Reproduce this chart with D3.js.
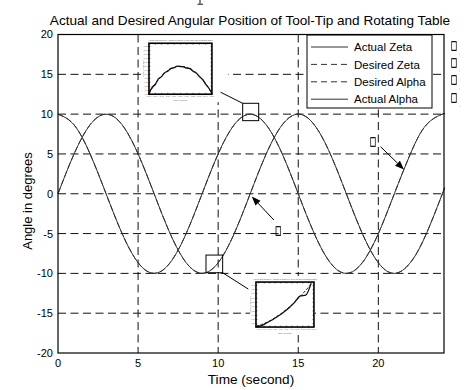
<!DOCTYPE html>
<html><head><meta charset="utf-8">
<script src="https://cdn.jsdelivr.net/npm/d3@7"></script>
<style>body{margin:0;background:#fff}svg{display:block}text{font-family:"Liberation Sans",Arial,sans-serif}</style>
</head><body><svg id="c" width="466" height="390"></svg>
<script>
// ---- data ----
const timeS = [0,1,2,3,4,5,6,7,8,9,10,11,12,13,14,15,16,17,18,19,20,21,22,23,24,24.1];
const desiredZeta  = [10,8.66,5,0,-5,-8.66,-10,-8.66,-5,0,5,8.66,10,8.66,5,0,-5,-8.66,-10,-8.66,-5,0,5,8.66,10,9.99];
const actualZeta   = [10,8.65,5.02,0.01,-4.98,-8.65,-9.99,-8.67,-5.01,0.02,5.01,8.66,9.99,8.65,5.01,-0.01,-5.0,-8.66,-10,-8.65,-5.01,0.01,5.0,8.66,9.99,9.98];
const desiredAlpha = [0,5,8.66,10,8.66,5,0,-5,-8.66,-10,-8.66,-5,0,5,8.66,10,8.66,5,0,-5,-8.66,-10,-8.66,-5,0,0.52];
const actualAlpha  = [0,4.98,8.65,9.99,8.67,5.01,0.01,-4.99,-8.65,-9.99,-8.67,-5.02,0.0,5.01,8.65,10,8.66,5.01,0.01,-4.99,-8.66,-10,-8.65,-5.01,0.01,0.5];
const xTicks = [0,5,10,15,20];
const yTicks = [-20,-15,-10,-5,0,5,10,15,20];
const legendLabels = ["Actual Zeta","Desired Zeta","Desired Alpha","Actual Alpha"];
const legendDashed = [false,true,true,false];

// zoom inset 1 (near zeta peak)
const inset1T = [11.5,11.55,11.6,11.65,11.7,11.75,11.8,11.85,11.9,11.95,12,12.05,12.1,12.15,12.2,12.25,12.3,12.35,12.4,12.45,12.5];
const inset1Desired = [9.659,9.724,9.781,9.833,9.877,9.914,9.945,9.969,9.986,9.997,10,9.997,9.986,9.969,9.945,9.914,9.877,9.833,9.781,9.724,9.659];
const inset1Actual  = [9.655,9.735,9.772,9.842,9.871,9.921,9.94,9.975,9.983,10.003,9.998,9.992,9.978,9.973,9.939,9.918,9.872,9.838,9.776,9.728,9.66];
// zoom inset 2 (near alpha trough)
const inset2T = [9.25,9.35,9.45,9.55,9.65,9.75,9.85,9.95,10.05,10.15,10.25];
const inset2Desired = [-9.914,-9.833,-9.724,-9.588,-9.426,-9.239,-9.026,-8.788,-8.526,-8.241,-7.934];
const inset2Actual  = [-9.93,-9.88,-9.75,-9.61,-9.44,-9.26,-9.05,-8.8,-8.5,-8.46,-7.9];

const titleText = "Actual and Desired Angular Position of Tool-Tip and Rotating Table";

// ---- scales ----
const svg = d3.select("#c");
const x = d3.scaleLinear().domain([0,24.1]).range([58,444]);
const y = d3.scaleLinear().domain([-20,20]).range([353,34.5]);

// fragment of a cut-off mark at the very top
svg.append("path").attr("d","M200,0V4M197.5,4.3H203").attr("stroke","#222").attr("stroke-width",1.1).attr("fill","none");

// title
svg.append("text").attr("x",250).attr("y",25).attr("text-anchor","middle")
  .attr("font-size",13.6).text(titleText);

// grid
const grid = svg.append("g").attr("stroke","#111").attr("stroke-width",1).attr("stroke-dasharray","8,4.5");
grid.selectAll(".gx").data(xTicks.filter(d=>d>0)).join("line")
  .attr("x1",d=>x(d)).attr("x2",d=>x(d)).attr("y1",y(20)).attr("y2",y(-20));
grid.selectAll(".gy").data(yTicks.filter(d=>d>-20&&d<20)).join("line")
  .attr("y1",d=>y(d)).attr("y2",d=>y(d)).attr("x1",x(0)).attr("x2",x(24.1));

// curves
const line = d3.line().x((d,i)=>x(timeS[i])).y(d=>y(d)).curve(d3.curveNatural);
const cg = svg.append("g").attr("fill","none").attr("stroke","#333").attr("stroke-width",1);
cg.append("path").attr("d",line(actualZeta));
cg.append("path").attr("d",line(actualAlpha));
cg.append("path").attr("d",line(desiredZeta)).attr("stroke-dasharray","6,3");
cg.append("path").attr("d",line(desiredAlpha)).attr("stroke-dasharray","6,3");

// tick labels
svg.append("g").selectAll("text").data(xTicks).join("text")
  .attr("x",d=>x(d)).attr("y",366.5).attr("text-anchor","middle").attr("font-size",11).text(d=>d);
svg.append("g").selectAll("text").data(yTicks).join("text")
  .attr("x",53).attr("y",d=>y(d)).attr("dy","0.36em").attr("text-anchor","end").attr("font-size",11).text(d=>d);

// axis labels
svg.append("text").attr("x",251).attr("y",384).attr("text-anchor","middle").attr("font-size",13.6).text("Time (second)");
svg.append("text").attr("transform","translate(32,201) rotate(-90)").attr("text-anchor","middle").attr("font-size",13).text("Angle in degrees");

// ---- insets ----
function drawInset(bg, box, tDom, vDom, actual, desired, tArr){
  const g = svg.append("g");
  g.append("rect").attr("x",x(bg[0])).attr("y",y(bg[3])).attr("width",x(bg[1])-x(bg[0])).attr("height",y(bg[2])-y(bg[3])).attr("fill","#fff");
  const x0=x(box[0]), x1=x(box[1]), y0=y(box[3]), y1=y(box[2]);
  const ix = d3.scaleLinear().domain(tDom).range([x0,x1]);
  const iy = d3.scaleLinear().domain(vDom).range([y1,y0]);
  g.append("text").attr("x",(x0+x1)/2).attr("y",y0-2).attr("text-anchor","middle").attr("font-size",2.2).attr("fill","#555").text(titleText);
  g.append("text").attr("x",(x0+x1)/2).attr("y",y1+6.5).attr("text-anchor","middle").attr("font-size",2.2).attr("fill","#555").text("Time (second)");
  g.append("text").attr("transform",`translate(${x0-4.5},${(y0+y1)/2}) rotate(-90)`).attr("text-anchor","middle").attr("font-size",2.2).attr("fill","#555").text("Angle in degrees");
  const xt = ix.ticks(10), yt = iy.ticks(10);
  g.selectAll(".xt").data(xt).join("text").attr("x",d=>ix(d)).attr("y",y1+3).attr("text-anchor","middle").attr("font-size",1.8).attr("fill","#666").text(d=>d3.format(".2f")(d));
  g.selectAll(".yt").data(yt).join("text").attr("x",x0-1).attr("y",d=>iy(d)+0.6).attr("text-anchor","end").attr("font-size",1.8).attr("fill","#666").text(d=>d3.format(".2f")(d));
  g.selectAll(".xk").data(xt).join("line").attr("x1",d=>ix(d)).attr("x2",d=>ix(d)).attr("y1",y1).attr("y2",y1-1.5).attr("stroke","#000").attr("stroke-width",0.5);
  g.selectAll(".xk2").data(xt).join("line").attr("x1",d=>ix(d)).attr("x2",d=>ix(d)).attr("y1",y0).attr("y2",y0+1.5).attr("stroke","#000").attr("stroke-width",0.5);
  g.selectAll(".yk").data(yt).join("line").attr("x1",x0).attr("x2",x0+1.5).attr("y1",d=>iy(d)).attr("y2",d=>iy(d)).attr("stroke","#000").attr("stroke-width",0.5);
  g.selectAll(".yk2").data(yt).join("line").attr("x1",x1).attr("x2",x1-1.5).attr("y1",d=>iy(d)).attr("y2",d=>iy(d)).attr("stroke","#000").attr("stroke-width",0.5);
  const l = d3.line().x((d,i)=>ix(tArr[i])).y(d=>iy(d)).curve(d3.curveMonotoneX);
  g.append("path").attr("d",l(desired)).attr("fill","none").attr("stroke","#222").attr("stroke-width",1).attr("stroke-dasharray","3,1.5");
  g.append("path").attr("d",l(actual)).attr("fill","none").attr("stroke","#111").attr("stroke-width",1.3);
  g.append("rect").attr("x",x0).attr("y",y0).attr("width",x1-x0).attr("height",y1-y0).attr("fill","none").attr("stroke","#000").attr("stroke-width",1.6);
}
drawInset([5.31,10.61,11.5,19.95],[5.68,9.61,12.5,18.9],[11.5,12.5],[9.65,10.29],inset1Actual,inset1Desired,inset1T);
drawInset([11.99,16.04,-17.75,-10.33],[12.36,15.98,-16.74,-11.09],[9.25,10.3],[-9.95,-7.85],inset2Actual,inset2Desired,inset2T);

// zoom squares and connectors
const ann = svg.append("g").attr("fill","none").attr("stroke","#000").attr("stroke-width",1);
function sq(t0,t1,v0,v1){ann.append("rect").attr("x",x(t0)).attr("y",y(v1)).attr("width",x(t1)-x(t0)).attr("height",y(v0)-y(v1));}
sq(11.53,12.53,9.18,11.36);
sq(9.24,10.28,-9.92,-7.7);
ann.append("line").attr("x1",x(10.15)).attr("y1",y(12.75)).attr("x2",x(11.53)).attr("y2",y(11.36));
ann.append("line").attr("x1",x(10.28)).attr("y1",y(-9.92)).attr("x2",x(11.88)).attr("y2",y(-11.97));

// arrows
function arrow(t1,v1,t2,v2){
  const ax=x(t1), ay=y(v1), bx=x(t2), by=y(v2);
  const a=Math.atan2(by-ay,bx-ax), L=9, W=3.5;
  const hx=bx-L*Math.cos(a), hy=by-L*Math.sin(a);
  svg.append("line").attr("x1",ax).attr("y1",ay).attr("x2",hx).attr("y2",hy).attr("stroke","#000").attr("stroke-width",1);
  svg.append("path").attr("d",`M${bx},${by}L${hx-W*Math.sin(a)},${hy+W*Math.cos(a)}L${hx+W*Math.sin(a)},${hy-W*Math.cos(a)}Z`).attr("fill","#000");
}
arrow(13.48,-3.3,12.1,-0.35);
arrow(20.14,5.91,21.6,3.05);

// stray glyphs (missing-character boxes), grayscale-rendered
const gl = svg.append("g").attr("opacity",0.99);
function glyph(px,py){
  gl.append("text").attr("transform",`translate(${px},${py}) scale(0.7,1.3)`).attr("text-anchor","middle")
    .attr("font-size",9).attr("fill","#000").attr("stroke","#000").attr("stroke-width",0.35)
    .style("font-family","'DejaVu Sans'").text("□");
}
glyph(x(13.75),y(-4.6)+3.5);
glyph(x(19.67),y(6.5)+3.5);

// legend
const lg = svg.append("g");
lg.append("rect").attr("x",307).attr("y",35).attr("width",125).attr("height",73).attr("fill","#fff").attr("stroke","#000").attr("stroke-width",1);
legendLabels.forEach((lab,i)=>{
  const cy = 47 + i*17.4;
  lg.append("line").attr("x1",311).attr("x2",348).attr("y1",cy).attr("y2",cy).attr("stroke","#333").attr("stroke-width",1)
    .attr("stroke-dasharray",legendDashed[i]?"6,4":null);
  lg.append("text").attr("x",354).attr("y",cy).attr("dy","0.36em").attr("font-size",11.5).text(lab);
  glyph(454, cy+1.5);
  gl.append("text").attr("x",459).attr("y",cy+7).attr("font-size",6).attr("fill","#999").text(",");
});

// axes box
svg.append("rect").attr("x",x(0)).attr("y",y(20)).attr("width",x(24.1)-x(0)).attr("height",y(-20)-y(20))
  .attr("fill","none").attr("stroke","#000").attr("stroke-width",1.2);
</script></body></html>
